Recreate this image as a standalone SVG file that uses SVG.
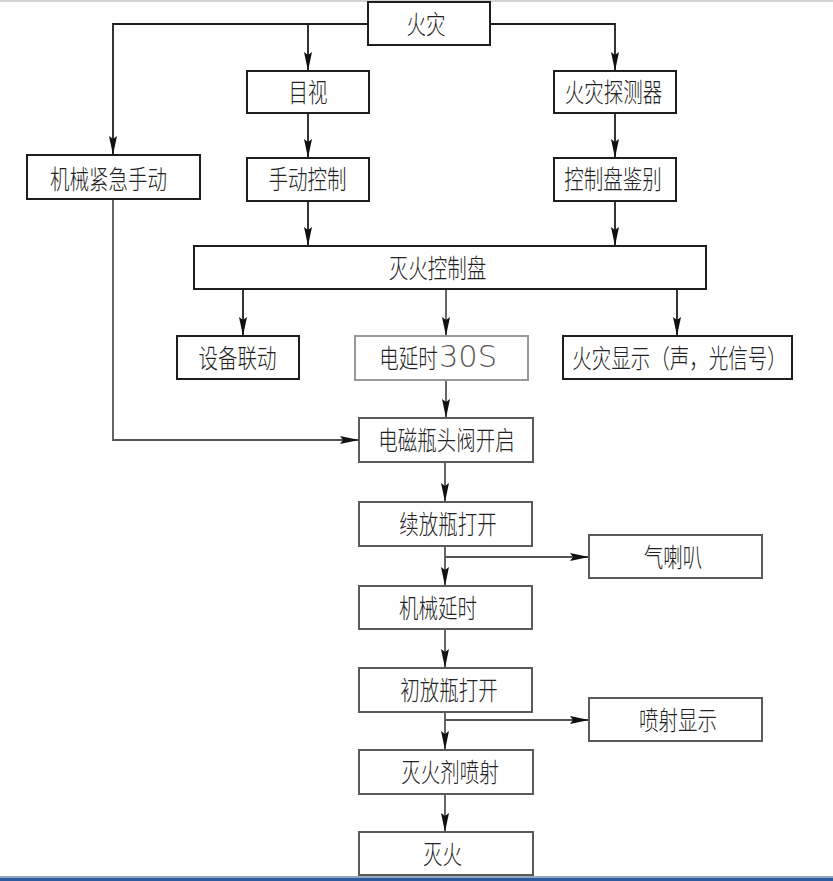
<svg xmlns="http://www.w3.org/2000/svg" width="833" height="881" viewBox="0 0 833 881">
<defs>
<style>
.bx{fill:#fff;stroke:#1e1e1e;stroke-width:2}
.bg{fill:#fff;stroke:#5a5a5a;stroke-width:2}
.bl{fill:#fff;stroke:#999;stroke-width:2}
.t{font-family:"Noto Sans CJK SC","Noto Sans CJK JP",sans-serif;font-size:26px;font-weight:300;fill:#222;text-anchor:middle}
.n{font-family:"DejaVu Sans","Liberation Sans",sans-serif;font-size:31px;font-weight:200;fill:#555}
.c{fill:none;stroke:#1e1e1e;stroke-width:1.8}
.cg{fill:none;stroke:#555;stroke-width:1.8}
</style>
<marker id="ah" markerUnits="userSpaceOnUse" markerWidth="20" markerHeight="9" refX="19" refY="4" orient="auto">
<path d="M0,0 L19,4 L0,8 L3,4 z" fill="#111"/>
</marker>
</defs>
<rect x="0" y="0" width="833" height="881" fill="#fff"/>
<rect x="0" y="0" width="833" height="2" fill="#d4d4d4"/>
<rect x="0" y="876" width="833" height="2" fill="#9aa6b8"/>
<rect x="0" y="878" width="833" height="3" fill="#2b5b9e"/>

<g id="connectors">
<path class="c" d="M368,24 H113 V155" marker-end="url(#ah)"/>
<path class="c" d="M308,24 V71" marker-end="url(#ah)"/>
<path class="c" d="M490,24 H615 V71" marker-end="url(#ah)"/>
<path class="c" d="M308,113 V158" marker-end="url(#ah)"/>
<path class="c" d="M615,113 V158" marker-end="url(#ah)"/>
<path class="c" d="M308,201 V246" marker-end="url(#ah)"/>
<path class="c" d="M615,201 V246" marker-end="url(#ah)"/>
<path class="cg" d="M113,199 V440 H359" marker-end="url(#ah)"/>
<path class="c" d="M243,289 V336" marker-end="url(#ah)"/>
<path class="cg" d="M446,289 V336" marker-end="url(#ah)"/>
<path class="c" d="M677,289 V336" marker-end="url(#ah)"/>
<path class="cg" d="M446,380 V418" marker-end="url(#ah)"/>
<path class="cg" d="M445,462 V502" marker-end="url(#ah)"/>
<path class="cg" d="M445,546 V586" marker-end="url(#ah)"/>
<path class="cg" d="M445,557 H589" marker-end="url(#ah)"/>
<path class="cg" d="M445,629 V668" marker-end="url(#ah)"/>
<path class="cg" d="M445,712 V750" marker-end="url(#ah)"/>
<path class="cg" d="M445,720 H589" marker-end="url(#ah)"/>
<path class="cg" d="M445,794 V832" marker-end="url(#ah)"/>
</g>

<g id="n-fire"><rect class="bx" x="368" y="2" width="122" height="43"/><text class="t" transform="translate(426,34) scale(0.75,1)">火灾</text></g>
<g id="n-visual"><rect class="bx" x="247" y="71" width="122" height="42"/><text class="t" transform="translate(308,102) scale(0.75,1)">目视</text></g>
<g id="n-detector"><rect class="bx" x="554" y="71" width="122" height="42"/><text class="t" transform="translate(613.5,102) scale(0.75,1)">火灾探测器</text></g>
<g id="n-mech-manual"><rect class="bx" x="27" y="155" width="173" height="44"/><text class="t" transform="translate(108.5,189) scale(0.75,1)">机械紧急手动</text></g>
<g id="n-manual"><rect class="bx" x="247" y="158" width="122" height="43"/><text class="t" transform="translate(307.5,189) scale(0.75,1)">手动控制</text></g>
<g id="n-identify"><rect class="bx" x="554" y="158" width="122" height="43"/><text class="t" transform="translate(613,189) scale(0.75,1)">控制盘鉴别</text></g>
<g id="n-panel"><rect class="bx" x="194" y="246" width="512" height="43"/><text class="t" transform="translate(437.5,278) scale(0.75,1)">灭火控制盘</text></g>
<g id="n-linkage"><rect class="bx" x="177" y="336" width="122" height="43"/><text class="t" transform="translate(237.5,368) scale(0.75,1)">设备联动</text></g>
<g id="n-delay30"><rect class="bl" x="355" y="336" width="173" height="44"/><text class="t" transform="translate(408.5,368) scale(0.75,1)">电延时</text><text class="n" x="439" y="367" textLength="58" lengthAdjust="spacingAndGlyphs">30S</text></g>
<g id="n-display"><rect class="bx" x="563" y="336" width="229" height="43"/><text class="t" transform="translate(679.5,368) scale(0.75,1)">火灾显示（声，光信号）</text></g>
<g id="n-valve"><rect class="bg" x="359" y="418" width="174" height="44"/><text class="t" transform="translate(446.5,450) scale(0.75,1)">电磁瓶头阀开启</text></g>
<g id="n-cont-open"><rect class="bg" x="359" y="502" width="173" height="44"/><text class="t" transform="translate(448,534) scale(0.75,1)">续放瓶打开</text></g>
<g id="n-horn"><rect class="bg" x="589" y="535" width="173" height="43"/><text class="t" transform="translate(673,567) scale(0.75,1)">气喇叭</text></g>
<g id="n-mech-delay"><rect class="bg" x="359" y="586" width="173" height="43"/><text class="t" transform="translate(438,618) scale(0.75,1)">机械延时</text></g>
<g id="n-init-open"><rect class="bg" x="359" y="668" width="173" height="44"/><text class="t" transform="translate(449,700) scale(0.75,1)">初放瓶打开</text></g>
<g id="n-spray-display"><rect class="bg" x="589" y="698" width="173" height="43"/><text class="t" transform="translate(678,730) scale(0.75,1)">喷射显示</text></g>
<g id="n-spray"><rect class="bg" x="359" y="750" width="174" height="44"/><text class="t" transform="translate(450,782) scale(0.75,1)">灭火剂喷射</text></g>
<g id="n-out"><rect class="bg" x="359" y="832" width="174" height="43"/><text class="t" transform="translate(442.5,864) scale(0.75,1)">灭火</text></g>
</svg>
